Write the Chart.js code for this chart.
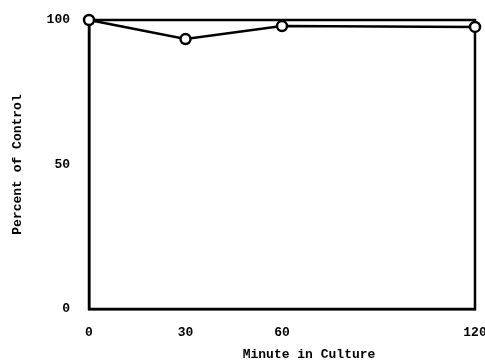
<!DOCTYPE html>
<html>
<head>
<meta charset="utf-8">
<script src="https://cdn.jsdelivr.net/npm/chart.js@4"></script>
<style>
  html, body { margin: 0; padding: 0; background: #fff; }
  #wrap { width: 485px; height: 363px; position: relative; }
</style>
</head>
<body>
<div id="wrap"><canvas id="chart"></canvas></div>
<script>
const minutes = [0, 30, 60, 120];
const percentOfControl = [100, 93.4, 97.9, 97.6];
const xTicks = [0, 30, 60, 120];
const yTicks = [0, 50, 100];

const FONT = { family: '"Liberation Mono", "DejaVu Sans Mono", monospace', size: 13, weight: 'bold' };

// frame round the plot and the x title, which sits right of centre
const framePlugin = {
  id: 'frame',
  beforeDatasetsDraw(chart) {
    const { ctx, chartArea: a } = chart;
    ctx.save();
    ctx.strokeStyle = '#000';
    ctx.lineWidth = 2.5;
    ctx.strokeRect(a.left, a.top, a.right - a.left, a.bottom - a.top);
    ctx.restore();
  },
  afterDraw(chart) {
    const { ctx, chartArea: a } = chart;
    ctx.save();
    ctx.fillStyle = '#000';
    ctx.font = `bold ${FONT.size}px ${FONT.family}`;
    ctx.textAlign = 'center';
    ctx.textBaseline = 'middle';
    ctx.fillText('Minute in Culture', a.left + (a.right - a.left) * 0.57, 355);
    ctx.restore();
  },
};

new Chart(document.getElementById('chart'), {
  type: 'line',
  data: {
    datasets: [{
      data: minutes.map((m, i) => ({ x: m, y: percentOfControl[i] })),
      borderColor: '#000',
      borderWidth: 2.5,
      pointRadius: 5,
      pointBorderWidth: 2.5,
      pointBackgroundColor: '#fff',
      pointBorderColor: '#000',
      tension: 0,
      clip: false,
    }],
  },
  options: {
    responsive: true,
    maintainAspectRatio: false,
    animation: false,
    layout: { padding: { top: 20, right: 10, bottom: 0, left: 0 } },
    plugins: { legend: { display: false }, tooltip: { enabled: false } },
    scales: {
      x: {
        type: 'linear',
        min: 0, max: 120,
        afterBuildTicks: s => { s.ticks = xTicks.map(v => ({ value: v })); },
        afterFit: s => { s.height = 54; s.paddingRight = 0; s.paddingLeft = 0; },
        grid: { display: false, drawTicks: false },
        border: { display: true, color: '#000', width: 2.5 },
        ticks: { color: '#000', font: FONT, padding: 16, maxRotation: 0 },
      },
      y: {
        min: 0, max: 100,
        afterBuildTicks: s => { s.ticks = yTicks.map(v => ({ value: v })); },
        afterFit: s => { s.width = 89; s.paddingTop = 0; s.paddingBottom = 0; },
        grid: { display: false, drawTicks: false },
        border: { display: true, color: '#000', width: 2.5 },
        ticks: { color: '#000', font: FONT, padding: 19 },
        title: { display: true, text: 'Percent of Control', color: '#000', font: FONT, padding: { top: 10, bottom: 0 } },
      },
    },
  },
  plugins: [framePlugin],
});
</script>
</body>
</html>
